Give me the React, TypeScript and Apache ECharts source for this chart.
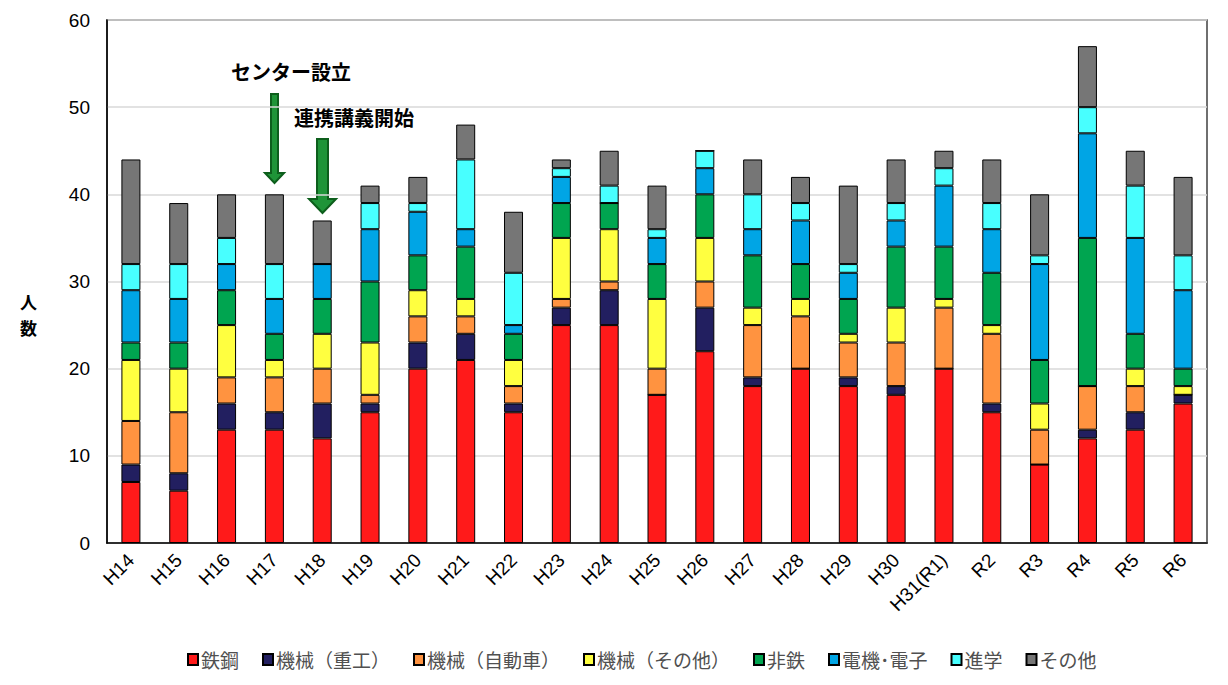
import React, { useEffect, useRef } from "react";
import * as echarts from "echarts";

const categories = ["H14","H15","H16","H17","H18","H19","H20","H21","H22","H23","H24","H25","H26","H27","H28","H29","H30","H31(R1)","R2","R3","R4","R5","R6"];
const seriesNames = ["鉄鋼","機械（重工）","機械（自動車）","機械（その他）","非鉄","電機･電子","進学","その他"];
const tekko      = [7,6,13,13,12,15,20,21,15,25,25,17,22,18,20,18,17,20,15,9,12,13,16];
const juko       = [2,2,3,2,4,1,3,3,1,2,4,0,5,1,0,1,1,0,1,0,1,2,1];
const jidosha    = [5,7,3,4,4,1,3,2,2,1,1,3,3,6,6,4,5,7,8,4,5,3,0];
const kikaiOther = [7,5,6,2,4,6,3,2,3,7,6,8,5,2,2,1,4,1,1,3,0,2,1];
const hitetsu    = [2,3,4,3,4,7,4,6,3,4,3,4,5,6,4,4,7,6,6,5,17,4,2];
const denki      = [6,5,3,4,4,6,5,2,1,3,0,3,3,3,5,3,3,7,5,11,12,11,9];
const shingaku   = [3,4,3,4,0,3,1,8,6,1,2,1,2,4,2,1,2,2,3,1,3,6,4];
const sonota     = [12,7,5,8,5,2,3,4,7,1,4,5,0,4,3,9,5,2,5,7,7,4,9];
const yTicks = [0,10,20,30,40,50,60];
const colors = ["#FF1A1A","#221F60","#FF9340","#FFFF40","#00A550","#00A5E5","#48FFFF","#767676"];
const allData = [tekko, juko, jidosha, kikaiOther, hitetsu, denki, shingaku, sonota];

export default function App() {
  const ref = useRef<HTMLDivElement>(null);
  useEffect(() => {
    if (!ref.current) return;
    const chart = echarts.init(ref.current, null, { renderer: "svg" });
    const font = "Liberation Sans, Arial, sans-serif";
    const jpFont = "Noto Sans CJK JP, sans-serif";
    chart.setOption({
      animation: false,
      backgroundColor: "#ffffff",
      grid: { left: 107, right: 21, top: 20, bottom: 142, containLabel: false, show: true, borderColor: "#404040", borderWidth: 1.5 },
      legend: {
        bottom: 11,
        left: 182,
        itemWidth: 10,
        itemHeight: 11,
        itemGap: 23,
        icon: "rect",
        textStyle: { fontFamily: jpFont, fontSize: 19, color: "#505050", padding: [0, 0, 0, -2] },
        data: seriesNames,
      },
      xAxis: {
        type: "category",
        data: categories,
        axisLine: { lineStyle: { color: "#000", width: 1.5 } },
        axisTick: { show: false },
        axisLabel: { rotate: 45, fontFamily: font, fontSize: 19, color: "#000", margin: 14, interval: 0 },
      },
      yAxis: {
        type: "value",
        min: yTicks[0],
        max: yTicks[yTicks.length - 1],
        interval: 10,
        axisLine: { show: true, lineStyle: { color: "#000", width: 1.5 } },
        axisTick: { show: false },
        splitLine: { lineStyle: { color: "#d9d9d9", width: 1.5 } },
        axisLabel: { fontFamily: font, fontSize: 19, color: "#000", margin: 17 },
      },
      series: seriesNames.map((name, i) => ({
        name,
        type: "bar",
        stack: "total",
        barWidth: 19,
        data: allData[i],
        itemStyle: { color: colors[i], borderColor: "#000", borderWidth: 1 },
      })),
      graphic: [
        { type: "text", left: 20, top: 288, style: { text: "人\n数", font: "bold 17px Noto Sans CJK JP", fill: "#000", lineHeight: 26 } },
        { type: "text", x: 231, y: 61, style: { text: "センター設立", font: "bold 20px Noto Sans CJK JP", fill: "#000" } },
        { type: "text", x: 294, y: 107, style: { text: "連携講義開始", font: "bold 20px Noto Sans CJK JP", fill: "#000" } },
        {
          type: "polygon",
          shape: { points: [[271, 94], [278, 94], [278, 173], [284, 173], [274.5, 183], [265, 173], [271, 173]] },
          style: { fill: "#1F9438", stroke: "#0D5E1C", lineWidth: 2 },
        },
        {
          type: "polygon",
          shape: { points: [[317, 139], [328, 139], [328, 199], [336, 199], [322.5, 213], [309, 199], [317, 199]] },
          style: { fill: "#1F9438", stroke: "#0D5E1C", lineWidth: 2 },
        },
      ],
    });
    return () => chart.dispose();
  }, []);
  return <div ref={ref} style={{ position: "fixed", left: 0, top: 0, width: 1228, height: 685 }} />;
}
